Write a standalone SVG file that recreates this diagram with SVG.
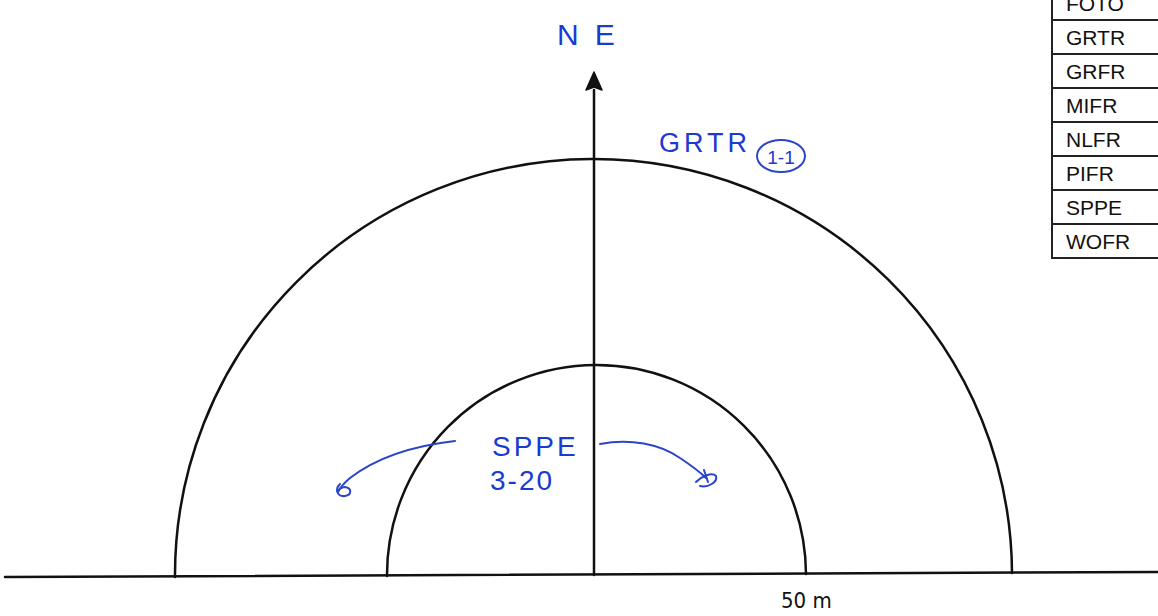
<svg xmlns="http://www.w3.org/2000/svg" width="1158" height="616" viewBox="0 0 1158 616">
<style>
.ln{fill:none;stroke:#111;stroke-width:2.5;stroke-linecap:round}
.tb{fill:none;stroke:#222;stroke-width:2}
.tt{font-family:"Liberation Sans",Arial,sans-serif;font-size:21px;fill:#111}
.hw{font-family:"Liberation Sans",Arial,sans-serif;fill:#1a3ad0}
.hs{fill:none;stroke:#2a45c8;stroke-width:2;stroke-linecap:round;stroke-linejoin:round}
</style>
<rect width="1158" height="616" fill="#fff"/>
<g id="base">
<path class="ln" d="M5,577 L1158,572"/>
</g>
<g id="outer-arc">
<path class="ln" d="M175,577 A418.5,416 0 0 1 1012,573"/>
</g>
<g id="inner-arc">
<path class="ln" d="M387,576 A209.5,210 0 0 1 806,574"/>
</g>
<g id="connectors">
<path class="ln" d="M594,575 L594,90"/>
<path d="M594,72 L602,90 L594,87 L586,90 z" fill="#111" stroke="#111" stroke-width="1.5" stroke-linejoin="round"/>
<path class="hs" d="M455,441 C420,445 380,455 350,478 C344,483 340,488 338,492"/>
<path class="hs" d="M340,484 C334,490 338,497 345,496 C352,495 352,488 345,487 C341,487 338,490 338,492"/>
<path class="hs" d="M600,444 C630,438 660,444 680,458 C692,466 700,472 706,478"/>
<path class="hs" d="M696,482 C702,476 712,472 716,476 C718,482 708,488 700,486 M704,470 L708,482"/>
</g>
<g id="legend">
<path class="tb" d="M1052,-2 L1052,258 L1160,258 M1052,20 L1160,20 M1052,54 L1160,54 M1052,88 L1160,88 M1052,122 L1160,122 M1052,156 L1160,156 M1052,190 L1160,190 M1052,224 L1160,224"/>
<text class="tt" x="1066" y="11">FOTO</text>
<text class="tt" x="1066" y="45">GRTR</text>
<text class="tt" x="1066" y="79">GRFR</text>
<text class="tt" x="1066" y="113">MIFR</text>
<text class="tt" x="1066" y="147">NLFR</text>
<text class="tt" x="1066" y="181">PIFR</text>
<text class="tt" x="1066" y="215">SPPE</text>
<text class="tt" x="1066" y="249">WOFR</text>
</g>
<g id="scale-label">
<text x="781" y="608" font-family="'DejaVu Sans Condensed','Liberation Sans Narrow','Liberation Sans',sans-serif" font-size="22" fill="#111">50 m</text>
</g>
<g id="north-label">
<text class="hw" x="557" y="45" font-size="30" letter-spacing="16">NE</text>
</g>
<g id="grtr-label">
<text class="hw" x="659" y="152" font-size="27" letter-spacing="4">GRTR</text>
<ellipse cx="781" cy="156" rx="24" ry="16" class="hs"/>
<text class="hw" x="781" y="164" font-size="19" text-anchor="middle">1-1</text>
</g>
<g id="sppe-label">
<text class="hw" x="492" y="456" font-size="28" letter-spacing="3">SPPE</text>
<text class="hw" x="490" y="490" font-size="28" letter-spacing="2">3-20</text>
</g>
</svg>
